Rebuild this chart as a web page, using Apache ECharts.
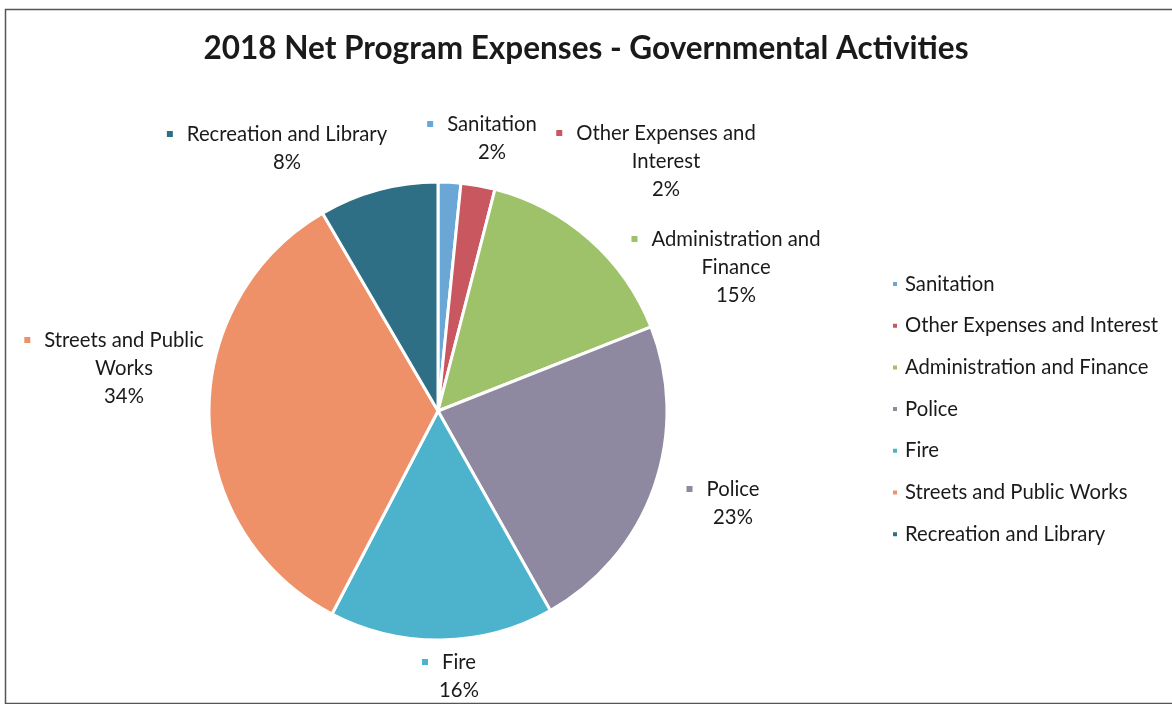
<!DOCTYPE html>
<html>
<head>
<meta charset="utf-8">
<script src="https://cdn.jsdelivr.net/npm/echarts@6/dist/echarts.min.js"></script>
<style>
  html, body { margin: 0; padding: 0; background: #fff; }
  #chart { width: 1172px; height: 704px; }
</style>
</head>
<body>
<div id="chart"></div>
<script>
// Net program expenses by function, share of total (%)
const categories = [
  'Sanitation',
  'Other Expenses and Interest',
  'Administration and Finance',
  'Police',
  'Fire',
  'Streets and Public Works',
  'Recreation and Library'
];
const shares = [1.6, 2.4, 15.0, 22.8, 15.8, 33.9, 8.4];

// How each slice label wraps onto lines
const labelText = [
  ['Sanitation'],
  ['Other Expenses and', 'Interest'],
  ['Administration and', 'Finance'],
  ['Police'],
  ['Fire'],
  ['Streets and Public', 'Works'],
  ['Recreation and Library']
];

const palette = ['#6aa6d6', '#c8575f', '#9dc26a', '#8e89a0', '#4db3cc', '#ef9168', '#2e6f86'];

// Centre of each slice label block (px)
const labelAnchors = [
  [492, 138], [666, 161], [736, 267], [733, 503],
  [459, 676], [124, 368], [287, 148]
];

const total = shares.reduce((a, b) => a + b, 0);
const FONT = 'Lato, "Open Sans", sans-serif';

const pieData = categories.map((name, i) => ({
  name: name,
  value: shares[i],
  itemStyle: { color: palette[i] },
  label: {
    rich: {
      m: { width: 6, height: 6, backgroundColor: palette[i] },
      g: { width: 14 },
      p: { width: 20 }
    }
  }
}));

const chart = echarts.init(document.getElementById('chart'), null, { renderer: 'canvas' });

chart.setOption({
  backgroundColor: '#fff',
  animation: false,
  title: {
    text: '2018 Net Program Expenses - Governmental Activities',
    left: 'center',
    top: 28,
    padding: [5, 0, 5, 12],
    textStyle: { fontFamily: FONT, fontWeight: 'bold', fontSize: 31.5, color: '#1a1a1a' }
  },
  legend: {
    orient: 'vertical',
    left: 886,
    top: 269,
    icon: 'rect',
    itemWidth: 6,
    itemHeight: 6,
    itemGap: 21.7,
    selectedMode: false,
    data: categories,
    textStyle: { fontFamily: FONT, fontSize: 20.3, lineHeight: 20, color: '#1a1a1a', padding: [0, 0, 0, 2] }
  },
  graphic: [{
    type: 'rect',
    shape: { x: 5.5, y: 9.5, width: 1180, height: 694 },
    style: { fill: 'none', stroke: '#555', lineWidth: 1.5 },
    silent: true
  }],
  series: [{
    type: 'pie',
    silent: true,
    center: [438, 411],
    radius: 229,
    startAngle: 90,
    clockwise: true,
    avoidLabelOverlap: false,
    itemStyle: { borderColor: '#fff', borderWidth: 3 },
    labelLine: { show: false },
    label: {
      show: true,
      position: 'outside',
      fontFamily: FONT,
      fontSize: 20.3,
      lineHeight: 28,
      color: '#1a1a1a',
      align: 'center',
      formatter: function (p) {
        const lines = labelText[p.dataIndex].slice();
        lines[0] = '{m|}{g|}' + lines[0] + '{p|}';
        lines.push(Math.round(p.value / total * 100) + '%');
        return lines.join('\n');
      }
    },
    labelLayout: function (params) {
      const a = labelAnchors[params.dataIndex];
      return { x: a[0], y: a[1], align: 'center', verticalAlign: 'middle' };
    },
    data: pieData
  }]
});
</script>
</body>
</html>
